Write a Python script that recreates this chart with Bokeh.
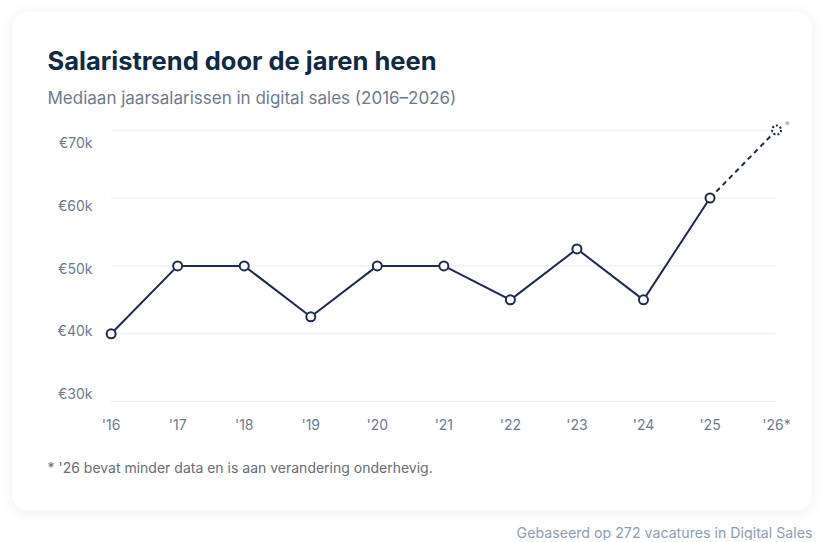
from bokeh.plotting import figure
from bokeh.layouts import column
from bokeh.models import Range1d, FixedTicker, Label, LinearAxis
from bokeh.embed import file_html
from bokeh.resources import INLINE

years = [2016, 2017, 2018, 2019, 2020, 2021, 2022, 2023, 2024, 2025, 2026]
salaries = [40000, 50000, 50000, 42500, 50000, 50000, 45000, 52500, 45000, 60000, 70000]
x_labels = ["'16", "'17", "'18", "'19", "'20", "'21", "'22", "'23", "'24", "'25", "'26*"]
y_ticks = [30000, 40000, 50000, 60000, 70000]
y_labels = ["€30k", "€40k", "€50k", "€60k", "€70k"]

title = "Salaristrend door de jaren heen"
subtitle = "Mediaan jaarsalarissen in digital sales (2016–2026)"
footnote = "* '26 bevat minder data en is aan verandering onderhevig."
source_note = "Gebaseerd op 272 vacatures in Digital Sales"

NAVY = "#1d2b4f"
LABEL = "#6b7a93"
FONT = "Inter"

p = figure(width=800, height=498, output_backend="svg", toolbar_location=None,
           x_range=Range1d(2015.75, 2026.54), y_range=Range1d(29000, 72000),
           y_axis_location=None,
           min_border_left=82, min_border_right=0, min_border_top=104, min_border_bottom=102,
           margin=(12, 12, 0, 12))
p.styles = {"border-radius": "16px", "overflow": "hidden",
            "box-shadow": "0 2px 14px rgba(25, 40, 80, 0.08)"}
p.background_fill_color = "white"
p.border_fill_color = "white"
p.outline_line_color = None
p.xgrid.visible = False
p.ygrid.visible = False

# the value labels in the reference sit on a slightly tighter scale than the gridlines
p.extra_y_ranges = {"labels": Range1d(27610, 74143)}
yax = LinearAxis(y_range_name="labels", ticker=FixedTicker(ticks=y_ticks),
                 major_label_overrides={t: l for t, l in zip(y_ticks, y_labels)})
p.add_layout(yax, "left")

# gridlines across the year span
p.segment(x0=[years[0]] * len(y_ticks), x1=[years[-1]] * len(y_ticks), y0=y_ticks, y1=y_ticks,
          line_color="#eeebe5", line_width=1)

# axes
p.xaxis.ticker = FixedTicker(ticks=years)
p.xaxis.major_label_overrides = {y: l for y, l in zip(years, x_labels)}
for ax in (p.xaxis[0], yax):
    ax.axis_line_color = None
    ax.major_tick_line_color = None
    ax.minor_tick_line_color = None
    ax.major_tick_out = 0
    ax.major_tick_in = 0
    ax.minor_tick_out = 0
    ax.major_label_text_color = LABEL
    ax.major_label_text_font = FONT
    ax.major_label_text_font_size = "14px"
p.xaxis.major_label_standoff = 7
yax.major_label_standoff = 2

# line
p.line(years[:10], salaries[:10], line_color=NAVY, line_width=2)
p.line(years[9:], salaries[9:], line_color=NAVY, line_width=2, line_dash="5 4")
p.scatter(years[:10], salaries[:10], size=9, fill_color="white", line_color=NAVY, line_width=2)
p.scatter(years[10:], salaries[10:], size=9, fill_color="white", line_color=NAVY, line_width=2,
          line_dash="2 2")
p.add_layout(Label(x=years[-1], y=salaries[-1], text="*", x_offset=8, y_offset=-2,
                   text_color="#9aa3b2", text_font=FONT, text_font_size="11px"))

# texts outside the frame
p.add_layout(Label(x=35, y=48, x_units="canvas", y_units="canvas", text=title,
                   text_font=FONT, text_font_size="25.5px", text_font_style="bold",
                   text_color="#0e2a47", text_baseline="alphabetic"), "above")
p.add_layout(Label(x=35, y=85, x_units="canvas", y_units="canvas", text=subtitle,
                   text_font=FONT, text_font_size="17px",
                   text_color=LABEL, text_baseline="alphabetic"), "above")
p.add_layout(Label(x=35, y=455, x_units="canvas", y_units="canvas", text=footnote,
                   text_font=FONT, text_font_size="14px",
                   text_color="#686c78", text_baseline="alphabetic"), "below")

note = figure(width=800, height=20, output_backend="svg", toolbar_location=None,
              x_range=Range1d(0, 1), y_range=Range1d(0, 1),
              x_axis_location=None, y_axis_location=None,
              min_border=0, margin=(10, 12, 0, 12))
note.grid.visible = False
note.outline_line_color = None
note.add_layout(Label(x=800, y=12, x_units="canvas", y_units="canvas", text=source_note,
                      text_font=FONT, text_font_size="14.2px",
                      text_align="right", text_baseline="middle", text_color="#8d9cb5"))

open("out.html", "w").write(file_html(column(p, note), INLINE))
